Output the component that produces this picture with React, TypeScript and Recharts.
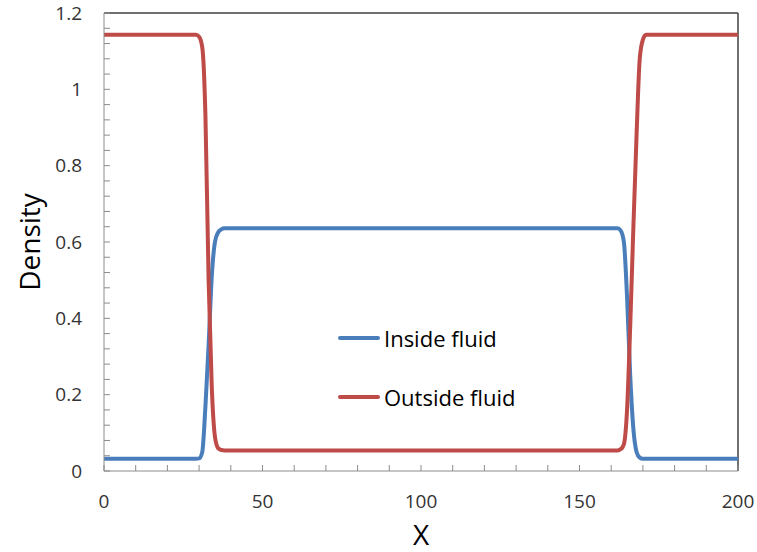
import { LineChart, Line, XAxis, YAxis, ReferenceLine } from "recharts"

const xValues = [0, 29, 30, 31, 32, 33, 34, 35, 36, 37, 38, 162, 163, 164, 165, 166, 167, 168, 169, 170, 171, 200]
const insideFluid = [
  0.032, 0.032, 0.033, 0.05, 0.17, 0.33, 0.51, 0.6, 0.625, 0.633, 0.636, 0.636, 0.63, 0.6, 0.456, 0.25, 0.11, 0.05,
  0.035, 0.032, 0.032, 0.032,
]
const outsideFluid = [
  1.143, 1.143, 1.138, 1.11, 0.93, 0.5, 0.22, 0.09, 0.06, 0.055, 0.054, 0.054, 0.057, 0.07, 0.16, 0.38, 0.64, 0.88,
  1.08, 1.13, 1.143, 1.143,
]
const seriesNames = ["Inside fluid", "Outside fluid"]
const seriesColors = ["#4a7ebb", "#be4b48"]

const xTicks = [0, 10, 20, 30, 40, 50, 60, 70, 80, 90, 100, 110, 120, 130, 140, 150, 160, 170, 180, 190, 200]
const xLabels = [0, 50, 100, 150, 200]
const yTicks = [
  0, 0.04, 0.08, 0.12, 0.16, 0.2, 0.24, 0.28, 0.32, 0.36, 0.4, 0.44, 0.48, 0.52, 0.56, 0.6, 0.64, 0.68, 0.72, 0.76, 0.8,
  0.84, 0.88, 0.92, 0.96, 1, 1.04, 1.08, 1.12, 1.16, 1.2,
]
const yLabels = [0, 0.2, 0.4, 0.6, 0.8, 1, 1.2]

const data = xValues.map((x, i) => ({ x, inside: insideFluid[i], outside: outsideFluid[i] }))

const font = "'Open Sans', sans-serif"

// legend sits inside the plot area, drawn over the chart so it doesn't eat chart space
function LegendBox() {
  return (
    <div style={{ position: "absolute", left: 338, top: 308, fontFamily: font, fontSize: 22, color: "#000" }}>
      {seriesNames.map((name, i) => (
        <div key={name} style={{ display: "flex", alignItems: "center", height: 59 }}>
          <div style={{ width: 42, height: 4, borderRadius: 2, background: seriesColors[i], marginRight: 4 }} />
          <span>{name}</span>
        </div>
      ))}
    </div>
  )
}

export default function App() {
  return (
    <div style={{ position: "absolute", left: 0, top: 0, width: 757, height: 552, background: "#fff" }}>
      <LineChart
        width={757}
        height={552}
        data={data}
        margin={{ top: 13, right: 19, bottom: 0, left: 0 }}
        style={{ fontFamily: font }}
      >
        <ReferenceLine y={1.2} stroke="#404040" strokeWidth={1.5} />
        <ReferenceLine x={200} stroke="#404040" strokeWidth={1.5} />
        <XAxis
          dataKey="x"
          type="number"
          domain={[0, 200]}
          ticks={xTicks}
          interval={0}
          height={81}
          tickSize={-6}
          tickMargin={30}
          stroke="#8c8c8c"
          tick={{ fill: "#333", fontSize: 19 }}
          tickFormatter={(v: number) => (xLabels.includes(v) ? String(v) : "")}
          label={{ value: "X", position: "insideBottom", offset: 7, fontSize: 28, fill: "#000" }}
        />
        <YAxis
          type="number"
          domain={[0, 1.2]}
          ticks={yTicks}
          interval={0}
          width={104}
          tickSize={-6}
          tickMargin={28}
          stroke="#8c8c8c"
          tick={{ fill: "#333", fontSize: 19 }}
          tickFormatter={(v: number) => (yLabels.includes(v) ? String(v) : "")}
          label={{ value: "Density", angle: -90, position: "center", dx: -22, fontSize: 28, fill: "#000" }}
        />
        <Line
          type="monotone"
          dataKey="inside"
          name={seriesNames[0]}
          stroke={seriesColors[0]}
          strokeWidth={4}
          dot={false}
          isAnimationActive={false}
        />
        <Line
          type="monotone"
          dataKey="outside"
          name={seriesNames[1]}
          stroke={seriesColors[1]}
          strokeWidth={4}
          dot={false}
          isAnimationActive={false}
        />
      </LineChart>
      <LegendBox />
    </div>
  )
}
